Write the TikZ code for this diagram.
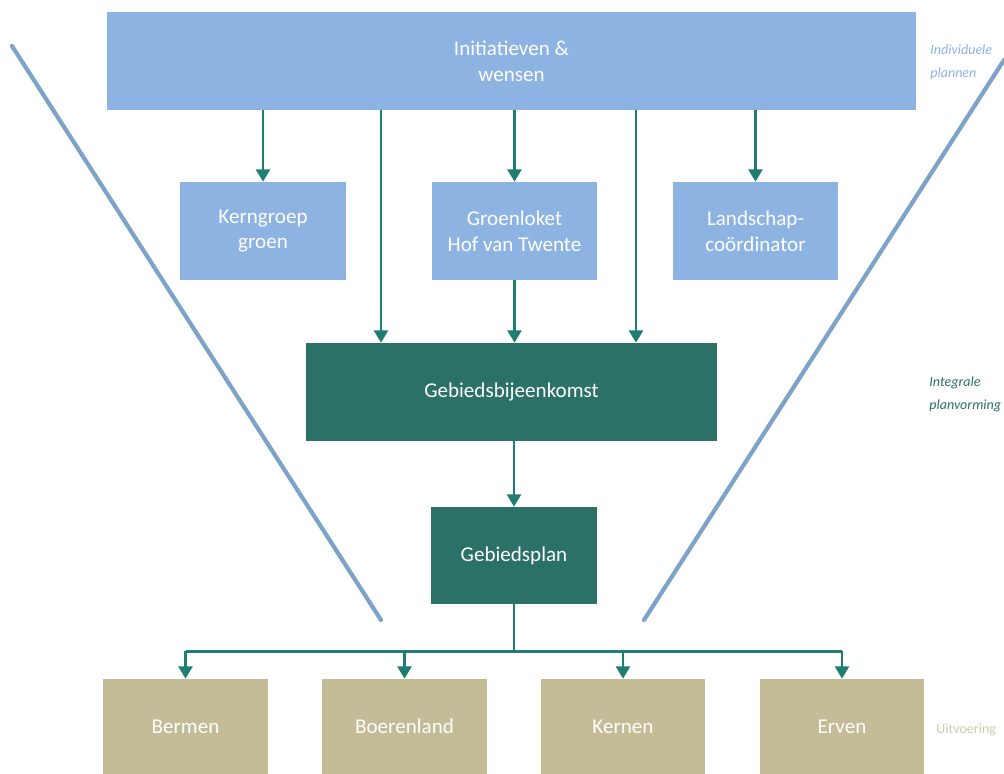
\documentclass[tikz,border=0pt]{standalone}
\usepackage{fontspec}
\setmainfont{Carlito}
\usetikzlibrary{arrows.meta}
\definecolor{lichtblauw}{HTML}{8DB3E2}
\definecolor{trechter}{HTML}{7DA3C9}
\definecolor{donkergroen}{HTML}{2B7167}
\definecolor{pijlgroen}{HTML}{1F7D71}
\definecolor{zand}{HTML}{C4BC96}
\definecolor{zandlicht}{HTML}{CFC9AE}

\begin{document}
\begin{tikzpicture}[x=0.02cm,y=-0.02cm,
    vak/.style={inner sep=0pt,text=white,align=center,
        minimum width=3.32cm,minimum height=1.96cm,
        font=\fontsize{12}{14.7}\selectfont},
    pijl/.style={draw=pijlgroen,line width=1.4pt,
        -{Triangle[length=7pt,width=8pt]}},
    lijn/.style={draw=pijlgroen,line width=1.4pt},
    fase/.style={anchor=west,align=left,inner sep=0pt,
        font=\fontsize{8}{13}\selectfont\itshape}]
\useasboundingbox (0,0) rectangle (1004,774);
\draw[trechter,line width=2.4pt,line cap=round] (12,46)--(381,620);
\draw[trechter,line width=2.4pt,line cap=round] (644,620)--(1004,60);

\node[vak,fill=lichtblauw,minimum width=16.18cm] (init) at (511.5,61) {Initiatieven \&\\wensen};
\node[vak,fill=lichtblauw] (kern) at (263,231) {Kerngroep\\groen};
\node[vak,fill=lichtblauw] (groen) at (514.5,231) {Groenloket\\Hof van Twente};
\node[vak,fill=lichtblauw] (land) at (755.5,231) {Landschap-\\coördinator};
\node[vak,fill=donkergroen,minimum width=8.22cm] (bijeen) at (511.5,392) {Gebiedsbijeenkomst};
\node[vak,fill=donkergroen,minimum height=1.94cm] (plan) at (514,555.5) {Gebiedsplan};
\node[vak,fill=zand,minimum width=3.3cm,minimum height=1.9cm] (bermen) at (185.5,726.5) {Bermen};
\node[vak,fill=zand,minimum width=3.3cm,minimum height=1.9cm] (boeren) at (404.5,726.5) {Boerenland};
\node[vak,fill=zand,minimum width=3.3cm,minimum height=1.9cm] (kernen) at (623,726.5) {Kernen};
\node[vak,fill=zand,minimum width=3.3cm,minimum height=1.9cm] (erven) at (842,726.5) {Erven};

\node[fase,text=lichtblauw] (fase1) at (930,62) {Individuele\\plannen};
\node[fase,text=donkergroen] (fase2) at (929,394) {Integrale\\planvorming};
\node[fase,text=zandlicht,font=\fontsize{8}{13}\selectfont] (fase3) at (936,730) {Uitvoering};

\coordinate (links) at (381,0);
\coordinate (rechts) at (636,0);
\draw[pijl] (init.south -| kern) -- (kern.north);
\draw[pijl] (init.south -| groen) -- (groen.north);
\draw[pijl] (init.south -| land) -- (land.north);
\draw[pijl] (init.south -| links) -- (bijeen.north -| links);
\draw[pijl] (init.south -| rechts) -- (bijeen.north -| rechts);
\draw[pijl] (groen.south) -- (groen.south |- bijeen.north);
\draw[pijl] (bijeen.south -| plan) -- (plan.north);

\draw[lijn] (plan.south) -- ++(0,47) coordinate (splits);
\draw[lijn] (bermen.north |- splits) -- (erven.north |- splits);
\foreach \b in {bermen,boeren,kernen,erven}
    \draw[pijl] (\b.north |- splits) -- (\b.north);
\end{tikzpicture}
\end{document}
